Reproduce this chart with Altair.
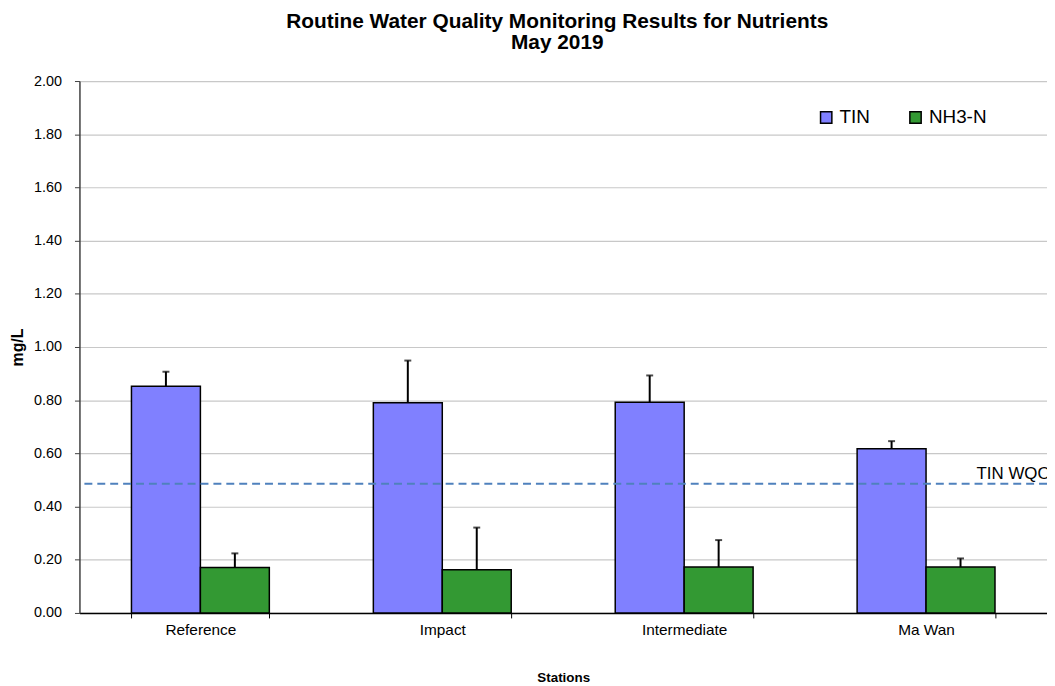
import altair as alt
import pandas as pd

stations = ["Reference", "Impact", "Intermediate", "Ma Wan"]
series_names = ["TIN", "NH3-N"]
series_colors = ["#8080FF", "#339933"]
tin_mean = [0.852, 0.790, 0.792, 0.617]
tin_upper = [0.907, 0.949, 0.893, 0.646]
nh3_mean = [0.171, 0.162, 0.173, 0.173]
nh3_upper = [0.224, 0.321, 0.274, 0.205]
wqo_value = 0.486
wqo_label = "TIN WQO"
y_ticks = [0.0, 0.2, 0.4, 0.6, 0.8, 1.0, 1.2, 1.4, 1.6, 1.8, 2.0]

rows = []
for i, s in enumerate(stations):
    rows.append({"station": s, "series": "TIN", "value": tin_mean[i], "upper": tin_upper[i]})
    rows.append({"station": s, "series": "NH3-N", "value": nh3_mean[i], "upper": nh3_upper[i]})
df = pd.DataFrame(rows)

FONT = "Liberation Sans"

x_enc = alt.X(
    "station:N",
    sort=stations,
    scale=alt.Scale(paddingInner=0.43, paddingOuter=0.215),
    axis=alt.Axis(
        title="Stations",
        labelAngle=0,
        tickBand="extent",
        labelFontSize=15.5,
        labelColor="#000000",
        labelPadding=5,
        tickSize=5,
        tickColor="#000000",
        domainColor="#000000",
        domainWidth=1.5,
        titleFontSize=13.5,
        titleFontWeight="bold",
        titleColor="#000000",
        titlePadding=33,
        grid=False,
    ),
)
xoff_enc = alt.XOffset("series:N", sort=series_names, scale=alt.Scale(paddingInner=0, paddingOuter=0))
y_scale = alt.Scale(domain=[0, 2], nice=False)

bars = alt.Chart(df).mark_bar(stroke="#000000", strokeWidth=1.5).encode(
    x=x_enc,
    xOffset=xoff_enc,
    y=alt.Y(
        "value:Q",
        scale=y_scale,
        axis=alt.Axis(
            title="mg/L",
            values=y_ticks,
            format=".2f",
            labelFontSize=14.5,
            labelColor="#000000",
            labelPadding=13,
            tickSize=5,
            tickColor="#404040",
            domainColor="#404040",
            domainWidth=1.5,
            gridColor="#c8c8c8",
            gridWidth=1.2,
            titleFontSize=16,
            titleFontWeight="bold",
            titleColor="#000000",
            titlePadding=8,
        ),
    ),
    color=alt.Color(
        "series:N",
        sort=series_names,
        scale=alt.Scale(domain=series_names, range=series_colors),
        legend=alt.Legend(
            title=None,
            orient="none",
            legendX=743,
            legendY=27,
            direction="horizontal",
            symbolType="square",
            symbolSize=130,
            symbolStrokeColor="#000000",
            symbolStrokeWidth=1.5,
            labelFontSize=19,
            labelColor="#000000",
            labelOffset=4,
            columnPadding=36,
        ),
    ),
)

err_lines = alt.Chart(df).mark_rule(color="#000000", strokeWidth=2).encode(
    x=x_enc, xOffset=xoff_enc, y=alt.Y("value:Q", scale=y_scale), y2="upper:Q"
)
err_caps = alt.Chart(df).mark_tick(color="#000000", orient="horizontal", size=7, thickness=2).encode(
    x=x_enc, xOffset=xoff_enc, y=alt.Y("upper:Q", scale=y_scale)
)

wqo_line = alt.Chart(pd.DataFrame({"v": [wqo_value]})).mark_rule(
    color="#4F81BD", strokeDash=[8, 5], strokeWidth=2
).encode(y=alt.Y("v:Q", scale=y_scale))

wqo_text = alt.Chart(pd.DataFrame({"v": [wqo_value], "t": [wqo_label]})).mark_text(
    align="left", baseline="alphabetic", fontSize=17, color="#000000", dy=-5, clip=True
).encode(x=alt.value(904), y=alt.Y("v:Q", scale=y_scale), text="t:N")

chart = alt.layer(bars, wqo_line, err_lines, err_caps, wqo_text).properties(
    width=975,
    height=536,
    padding={"left": 72, "top": 71, "right": 0, "bottom": 71},
    autosize=alt.AutoSizeParams(type="none"),
    background="#ffffff",
    title=alt.Title(
        text=["Routine Water Quality Monitoring Results for Nutrients", "May 2019"],
        fontSize=21,
        font=FONT,
        fontWeight="bold",
        color="#000000",
        anchor="middle",
        offset=20,
        dx=-6,
        lineHeight=21,
    ),
).configure(font=FONT).configure_view(strokeWidth=0)

chart.save("out.html", embed_options={"renderer": "svg", "actions": False})
